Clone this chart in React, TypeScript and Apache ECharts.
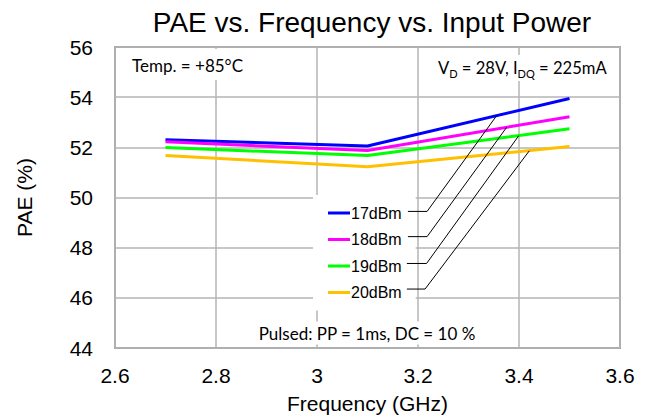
import React, { useEffect, useRef } from "react";
import * as echarts from "echarts";

const freqs = [2.7, 3.1, 3.5];
const seriesNames = ["17dBm", "18dBm", "19dBm", "20dBm"];
const pae17 = [52.3, 52.05, 53.95];
const pae18 = [52.22, 51.87, 53.22];
const pae19 = [51.99, 51.67, 52.74];
const pae20 = [51.67, 51.23, 52.03];
const seriesColors = ["#0000ff", "#ff00ff", "#00ff00", "#ffc000"];

// leader lines from legend labels to curves: [freq, PAE] points
const leader17 = [[3.18, 49.445], [3.218, 49.445], [3.356, 53.27]];
const leader18 = [[3.18, 48.44], [3.218, 48.44], [3.3756, 52.8]];
const leader19 = [[3.178, 47.37], [3.217, 47.37], [3.3994, 52.46]];
const leader20 = [[3.178, 46.35], [3.214, 46.35], [3.4204, 51.86]];

const xTicks = { min: 2.6, max: 3.6, interval: 0.2 };
const yTicks = { min: 44, max: 56, interval: 2 };

const ARIAL = "'Liberation Sans', Arial, sans-serif";
const CALIBRI = "Lato, 'Noto Sans', sans-serif";

export default function App() {
  const ref = useRef<HTMLDivElement>(null);
  useEffect(() => {
    if (!ref.current) return;
    const chart = echarts.init(ref.current, undefined, { renderer: "svg" });
    const values = [pae17, pae18, pae19, pae20];
    const leaders = [leader17, leader18, leader19, leader20];
    const mainSeries = seriesNames.map((name, i) => ({
      name,
      type: "line",
      data: freqs.map((f, j) => [f, values[i][j]]),
      symbol: "none",
      lineStyle: { color: seriesColors[i], width: 3 },
      itemStyle: { color: seriesColors[i] },
      z: 3,
    }));
    const leaderSeries = leaders.map((d, i) => ({
      name: "leader" + i,
      type: "line",
      data: d,
      symbol: "none",
      silent: true,
      lineStyle: { color: "#000", width: 1 },
      itemStyle: { color: "#000" },
      z: 10,
    }));
    chart.setOption({
      animation: false,
      backgroundColor: "#fff",
      grid: {
        left: 115,
        right: 27,
        top: 47,
        bottom: 70,
        show: true,
        borderColor: "#a0a0a0",
        borderWidth: 2,
        backgroundColor: "transparent",
      },
      legend: {
        data: seriesNames,
        orient: "vertical",
        left: 313,
        top: 195,
        padding: [10, 14, 10, 15],
        itemWidth: 22,
        itemHeight: 14,
        itemGap: 10.5,
        icon: "path://M0 0H22V3H0Z",
        symbolKeepAspect: true,
        backgroundColor: "#fff",
        textStyle: {
          fontFamily: ARIAL,
          fontSize: 16,
          lineHeight: 14,
          color: "#000",
          padding: [0, 0, 0, -4],
        },
        selectedMode: false,
      },
      xAxis: {
        type: "value",
        min: xTicks.min,
        max: xTicks.max,
        interval: xTicks.interval,
        name: "Frequency (GHz)",
        nameLocation: "middle",
        nameGap: 45,
        nameTextStyle: { fontFamily: ARIAL, fontSize: 21, color: "#000" },
        axisLine: { show: false },
        axisTick: { show: false },
        axisLabel: {
          fontFamily: ARIAL,
          fontSize: 21,
          color: "#000",
          margin: 17,
          formatter: (v: number) => String(Math.round(v * 10) / 10),
        },
        splitLine: { show: true, lineStyle: { color: "#b4b4b4", width: 1.5 } },
      },
      yAxis: {
        type: "value",
        min: yTicks.min,
        max: yTicks.max,
        interval: yTicks.interval,
        name: "PAE (%)",
        nameLocation: "middle",
        nameGap: 80,
        nameTextStyle: { fontFamily: ARIAL, fontSize: 21, color: "#000" },
        axisLine: { show: false },
        axisTick: { show: false },
        axisLabel: { fontFamily: ARIAL, fontSize: 21, color: "#000", margin: 22 },
        splitLine: { show: true, lineStyle: { color: "#b4b4b4", width: 1.5 } },
      },
      graphic: [
        {
          type: "text",
          x: 372,
          y: 22,
          style: {
            text: "PAE vs. Frequency vs. Input Power",
            fontFamily: ARIAL,
            fontSize: 28,
            fill: "#000",
            align: "center",
            verticalAlign: "middle",
          },
        },
        {
          type: "text",
          x: 122,
          y: 49,
          z: 5,
          style: {
            text: "Temp. = +85°C",
            fontFamily: CALIBRI,
            fontSize: 17,
            fill: "#000",
            backgroundColor: "#fff",
            padding: [8, 10, 6, 10],
          },
        },
        {
          type: "text",
          x: 432,
          y: 55,
          z: 5,
          style: {
            text: "{n|V}{s|D}{n| = 28V, I}{s|DQ}{n| = 225mA}",
            backgroundColor: "#fff",
            padding: [2, 6, 2, 6],
            rich: {
              n: { fontFamily: CALIBRI, fontSize: 16.6, fill: "#000", color: "#000", lineHeight: 22 },
              s: {
                fontFamily: CALIBRI,
                fontSize: 11,
                fill: "#000",
                color: "#000",
                lineHeight: 10,
                verticalAlign: "bottom",
              },
            },
          },
        },
        {
          type: "text",
          x: 367,
          y: 333,
          z: 5,
          style: {
            text: "Pulsed: PP = 1ms, DC = 10 %",
            fontFamily: CALIBRI,
            fontSize: 17,
            fill: "#000",
            align: "center",
            verticalAlign: "middle",
            backgroundColor: "#fff",
            padding: [3, 6, 3, 6],
          },
        },
      ],
      series: [...mainSeries, ...leaderSeries],
    });
    return () => chart.dispose();
  }, []);
  return (
    <div
      ref={ref}
      style={{ position: "fixed", left: 0, top: 0, width: 647, height: 419 }}
    />
  );
}
